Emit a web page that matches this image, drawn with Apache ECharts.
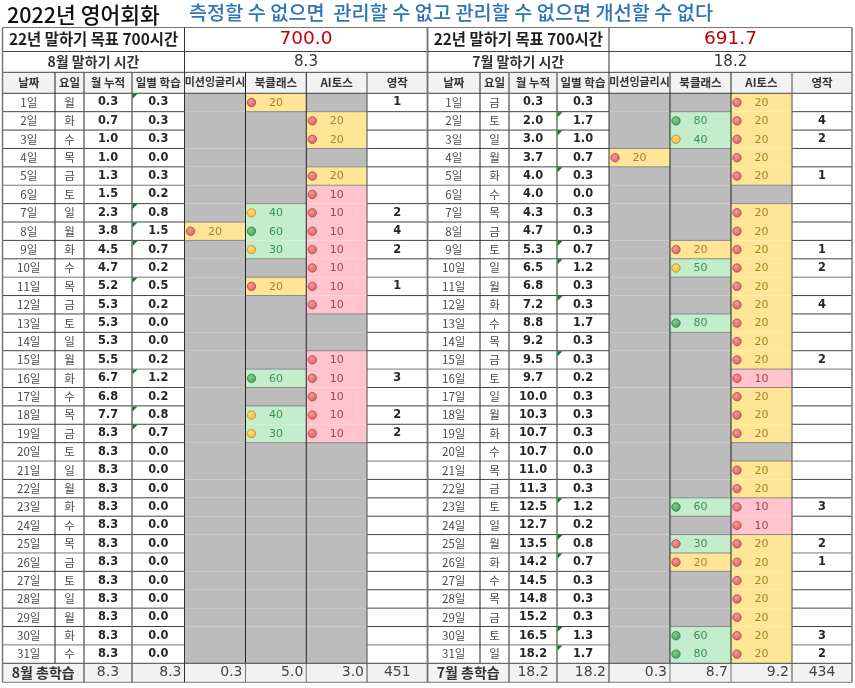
<!DOCTYPE html>
<html><head><meta charset="utf-8">
<style>html,body{margin:0;padding:0;background:#fff}#c{width:855px;height:688px}</style>
<script src="https://cdn.jsdelivr.net/npm/echarts@6/dist/echarts.min.js"></script>
</head><body><div id="c"></div>
<script>
// ---------- data ----------
const pageTitle = '2022년 영어회화';
const slogan = '측정할 수 없으면  관리할 수 없고 관리할 수 없으면 개선할 수 없다';
const goalLabel = '22년 말하기 목표 700시간';
const headers = ['날짜','요일','월 누적','일별 학습','미션잉글리시','북클래스','AI토스','영작'];
const dayLabels = ['1일','2일','3일','4일','5일','6일','7일','8일','9일','10일','11일','12일','13일','14일','15일','16일','17일','18일','19일','20일','21일','22일','23일','24일','25일','26일','27일','28일','29일','30일','31일'];

const augMonthLabel = '8월 말하기 시간', augGoalLeft = '700.0', augHours = '8.3';
const augWeekdays = ['월','화','수','목','금','토','일','월','화','수','목','금','토','일','월','화','수','목','금','토','일','월','화','수','목','금','토','일','월','화','수'];
const augCumulative = [0.3,0.7,1.0,1.0,1.3,1.5,2.3,3.8,4.5,4.7,5.2,5.3,5.3,5.3,5.5,6.7,6.8,7.7,8.3,8.3,8.3,8.3,8.3,8.3,8.3,8.3,8.3,8.3,8.3,8.3,8.3];
const augDaily = [0.3,0.3,0.3,0.0,0.3,0.2,0.8,1.5,0.7,0.2,0.5,0.2,0.0,0.0,0.2,1.2,0.2,0.8,0.7,0,0,0,0,0,0,0,0,0,0,0,0];
const augMission = [null,null,null,null,null,null,null,20,null,null,null,null,null,null,null,null,null,null,null,null,null,null,null,null,null,null,null,null,null,null,null];
const augBook = [20,null,null,null,null,null,40,60,30,null,20,null,null,null,null,60,null,40,30,null,null,null,null,null,null,null,null,null,null,null,null];
const augAi = [null,20,20,null,20,10,10,10,10,10,10,10,null,null,10,10,10,10,10,null,null,null,null,null,null,null,null,null,null,null,null];
const augWriting = [1,null,null,null,null,null,2,4,2,null,1,null,null,null,null,3,null,2,2,null,null,null,null,null,null,null,null,null,null,null,null];
const augFooter = ['8월 총학습','8.3','8.3','0.3','5.0','3.0','451'];

const julMonthLabel = '7월 말하기 시간', julGoalLeft = '691.7', julHours = '18.2';
const julWeekdays = ['금','토','일','월','화','수','목','금','토','일','월','화','수','목','금','토','일','월','화','수','목','금','토','일','월','화','수','목','금','토','일'];
const julCumulative = [0.3,2.0,3.0,3.7,4.0,4.0,4.3,4.7,5.3,6.5,6.8,7.2,8.8,9.2,9.5,9.7,10.0,10.3,10.7,10.7,11.0,11.3,12.5,12.7,13.5,14.2,14.5,14.8,15.2,16.5,18.2];
const julDaily = [0.3,1.7,1.0,0.7,0.3,0.0,0.3,0.3,0.7,1.2,0.3,0.3,1.7,0.3,0.3,0.2,0.3,0.3,0.3,0.0,0.3,0.3,1.2,0.2,0.8,0.7,0.3,0.3,0.3,1.3,1.7];
const julMission = [null,null,null,20,null,null,null,null,null,null,null,null,null,null,null,null,null,null,null,null,null,null,null,null,null,null,null,null,null,null,null];
const julBook = [null,80,40,null,null,null,null,null,20,50,null,null,80,null,null,null,null,null,null,null,null,null,60,null,30,20,null,null,null,60,80];
const julAi = [20,20,20,20,20,null,20,20,20,20,20,20,20,20,20,10,20,20,20,null,20,20,10,10,20,20,20,20,20,20,20];
const julWriting = [null,4,2,null,1,null,null,null,1,2,null,4,null,null,2,null,null,null,null,null,null,null,3,null,2,1,null,null,null,3,2];
const julFooter = ['7월 총학습','18.2','18.2','0.3','8.7','9.2','434'];
const julBookRedIconDays = [24]; // index of 25일: 30 with a red icon

// ---------- layout (sheet scale) ----------
const augCols = [2.5,55,84,132,184.5,245.5,306.3,367,427.5];
const julCols = [427.5,480,509,557,609,670,731,792,852];
const rowEdges = [27.5,51.5,72.3,93.3];
for (let i=1;i<=31;i++) rowEdges.push(93.3+i*570/31);
rowEdges.push(682.3);
const KR = '"Noto Sans CJK KR","Noto Sans",sans-serif';
const NUM = '"DejaVu Sans","Noto Sans CJK KR",sans-serif';
const GREY='#bcbcbc', HEAD='#f2f2f2';
const FILL={y:'#ffe596',g:'#c3eecb',p:'#ffc4cc'};
const TXT={y:'#a5822a',g:'#3c8f4e',p:'#a3434f'};
const ICON={r:['#f59a9a','#e0585c','#a8474a'],a:['#ffdb7a','#f5b93c','#b98d2e'],g:['#7fcb8e','#48a35c','#35774a']};

const fills=[],lines=[],marks=[],texts=[];
function rect(x0,x1,y0,y1,c){fills.push({value:[x0,y0,x1,y1],c});}
function line(x0,y0,x1,y1,c,w){lines.push({value:[x0,y0,x1,y1],c,w});}
function text(x,y,t,o){texts.push({value:[x,y],t:String(t),o});}
const st={
 goal:{f:'bold 15.4px '+KR,c:'#1f1f1f'},
 big:{f:'18.5px '+NUM,c:'#c00000'},
 month:{f:'bold 14px '+KR,c:'#333'},
 hours:{f:'15px '+NUM,c:'#333'},
 head:{f:'bold 11.5px '+KR,c:'#333'},
 day:{f:'11.5px '+KR,c:'#4a4a4a'},
 num:{f:'bold 11.4px '+NUM,c:'#262626'},
 foot:{f:'bold 14px '+KR,c:'#333'},
 footN:{f:'14px '+NUM,c:'#444'}
};
function scoreKind(v){return v===10?'p':v===20?'y':'g';}
function scoreIcon(v){return v<=20?'r':v<=50?'a':'g';}

function buildBlock(cols,m){
 const cx=(a,b)=>(cols[a]+cols[b])/2, cy=r=>(rowEdges[r]+rowEdges[r+1])/2;
 // top rows
 text(cx(0,4),cy(0),goalLabel,st.goal); text(cx(4,8),cy(0),m.goalLeft,st.big);
 text(cx(0,4),cy(1),m.monthLabel,st.month); text(cx(4,8),cy(1),m.hours,st.hours);
 rect(cols[0],cols[8],rowEdges[2],rowEdges[3],HEAD);
 headers.forEach((h,i)=>text(cx(i,i+1),cy(2)-.5,h,i===4?{f:'bold 11px '+KR,c:'#333'}:st.head));
 const sc=[m.mission,m.book,m.ai];
 for(let d=0;d<31;d++){
  const r=3+d;
  text(cx(0,1),cy(r),dayLabels[d],st.day);
  text(cx(1,2),cy(r),m.weekdays[d],st.day);
  text(cx(2,3),cy(r),m.cumulative[d].toFixed(1),st.num);
  text(cx(3,4),cy(r),m.daily[d].toFixed(1),st.num);
  if(m.writing[d]!=null){
   text(cx(7,8),cy(r),m.writing[d],st.num);
   marks.push({value:[cols[3]+.5,rowEdges[r]+.5],kind:'tri'});
  }
  sc.forEach((arr,k)=>{
   const v=arr[d],c=4+k;
   if(v==null){rect(cols[c],cols[c+1],rowEdges[r],rowEdges[r+1],GREY);return;}
   const kd=scoreKind(v);
   rect(cols[c],cols[c+1],rowEdges[r],rowEdges[r+1],FILL[kd]);
   text(cx(c,c+1),cy(r)+.5,v,{f:'11px '+NUM,c:TXT[kd]});
   let ic=scoreIcon(v);
   if(k===1&&m.redIcons&&m.redIcons.includes(d))ic='r';
   marks.push({value:[cols[c]+6,cy(r)],kind:'dot',ic});
  });
 }
 // footer
 const fr=34;
 rect(cols[0],cols[8],rowEdges[fr],rowEdges[fr+1],HEAD);
 text(cx(0,2),cy(fr),m.footer[0],st.foot);
 text(cx(2,3),cy(fr),m.footer[1],st.footN);
 [m.footer[2],m.footer[3],m.footer[4],m.footer[5]].forEach((t,i)=>text(cols[4+i]-3,cy(fr),t,Object.assign({align:'right'},st.footN)));
 text(cx(7,8),cy(fr),m.footer[6],st.footN);
 // horizontal rules
 [0,1,2,3,34,35].forEach(r=>line(cols[0],rowEdges[r],cols[8],rowEdges[r],r===35||r===0?'#777':'#444',1));
 for(let r=4;r<34;r++){
  const d=r-3;
  const dark=(d%5===0)?'#777':'#444';
  line(cols[0],rowEdges[r],cols[4],rowEdges[r],dark,1);
  line(cols[7],rowEdges[r],cols[8],rowEdges[r],dark,1);
  sc.forEach((arr,k)=>{
   const a=arr[d-1],b=arr[d];
   const ka=a==null?'x':scoreKind(a),kb=b==null?'x':scoreKind(b);
   if(ka!==kb)line(cols[4+k],rowEdges[r],cols[5+k],rowEdges[r],'#888',1);
  });
 }
 // vertical rules
 [[0,'#777',1.5],[8,'#777',1.5]].forEach(([i,c,w])=>line(cols[i],rowEdges[0],cols[i],rowEdges[35],c,w));
 line(cols[4],rowEdges[0],cols[4],rowEdges[35],'#333',1);
 [1,5,6].forEach(i=>line(cols[i],rowEdges[2],cols[i],rowEdges[34],'#222',1));
 [[2,'#666',1.4],[3,'#666',1.4],[7,'#666',1.2]].forEach(([i,c,w])=>line(cols[i],rowEdges[2],cols[i],rowEdges[35],c,w));
 [5,6].forEach(i=>line(cols[i],rowEdges[34],cols[i],rowEdges[35],'#777',1));
}
buildBlock(augCols,{monthLabel:augMonthLabel,goalLeft:augGoalLeft,hours:augHours,weekdays:augWeekdays,cumulative:augCumulative,daily:augDaily,mission:augMission,book:augBook,ai:augAi,writing:augWriting,footer:augFooter});
buildBlock(julCols,{monthLabel:julMonthLabel,goalLeft:julGoalLeft,hours:julHours,weekdays:julWeekdays,cumulative:julCumulative,daily:julDaily,mission:julMission,book:julBook,ai:julAi,writing:julWriting,footer:julFooter,redIcons:julBookRedIconDays});

const chart=echarts.init(document.getElementById('c'),null,{renderer:'canvas'});
const enc4={x:[0,2],y:[1,3]}, enc2={x:0,y:1};
chart.setOption({
 animation:false,backgroundColor:'#fff',
 title:[
  {text:pageTitle,left:7,top:4,padding:0,textStyle:{fontFamily:KR,fontSize:21.5,fontWeight:500,color:'#111'}},
  {text:slogan,left:189,top:3,padding:0,textStyle:{fontFamily:KR,fontSize:19.7,fontWeight:500,color:'#2e75b6'}}
 ],
 grid:{left:0,right:0,top:0,bottom:0},
 xAxis:{type:'value',min:0,max:855,show:false},
 yAxis:{type:'value',min:0,max:688,inverse:true,show:false},
 series:[
  {type:'custom',name:'cells',silent:true,encode:enc4,data:fills.map(d=>d.value),z:1,
   renderItem:(p,api)=>{const a=api.coord([api.value(0),api.value(1)]),b=api.coord([api.value(2),api.value(3)]);
    return {type:'rect',shape:{x:a[0],y:a[1],width:b[0]-a[0],height:b[1]-a[1]},style:{fill:fills[p.dataIndex].c}};}},
  {type:'custom',name:'rules',silent:true,encode:enc4,data:lines.map(d=>d.value),z:2,
   renderItem:(p,api)=>{const a=api.coord([api.value(0),api.value(1)]),b=api.coord([api.value(2),api.value(3)]),l=lines[p.dataIndex];
    return {type:'line',shape:{x1:a[0],y1:a[1],x2:b[0],y2:b[1]},style:{stroke:l.c,lineWidth:l.w}};}},
  {type:'custom',name:'marks',silent:true,encode:enc2,data:marks.map(d=>d.value),z:3,
   renderItem:(p,api)=>{const a=api.coord([api.value(0),api.value(1)]),m=marks[p.dataIndex];
    if(m.kind==='tri')return {type:'polygon',shape:{points:[[a[0],a[1]],[a[0]+5,a[1]],[a[0],a[1]+5]]},style:{fill:'#0f7a1e'}};
    const ic=ICON[m.ic];
    return {type:'circle',shape:{cx:a[0],cy:a[1],r:4.2},style:{lineWidth:.8,stroke:ic[2],
      fill:new echarts.graphic.RadialGradient(.4,.35,.7,[{offset:0,color:ic[0]},{offset:1,color:ic[1]}])}};}},
  {type:'custom',name:'text',silent:true,encode:enc2,data:texts.map(d=>d.value),z:4,
   renderItem:(p,api)=>{const a=api.coord([api.value(0),api.value(1)]),t=texts[p.dataIndex];
    return {type:'text',x:a[0],y:a[1],style:{text:t.t,font:t.o.f,fill:t.o.c,align:t.o.align||'center',verticalAlign:'middle'}};}}
 ]
});
</script></body></html>
